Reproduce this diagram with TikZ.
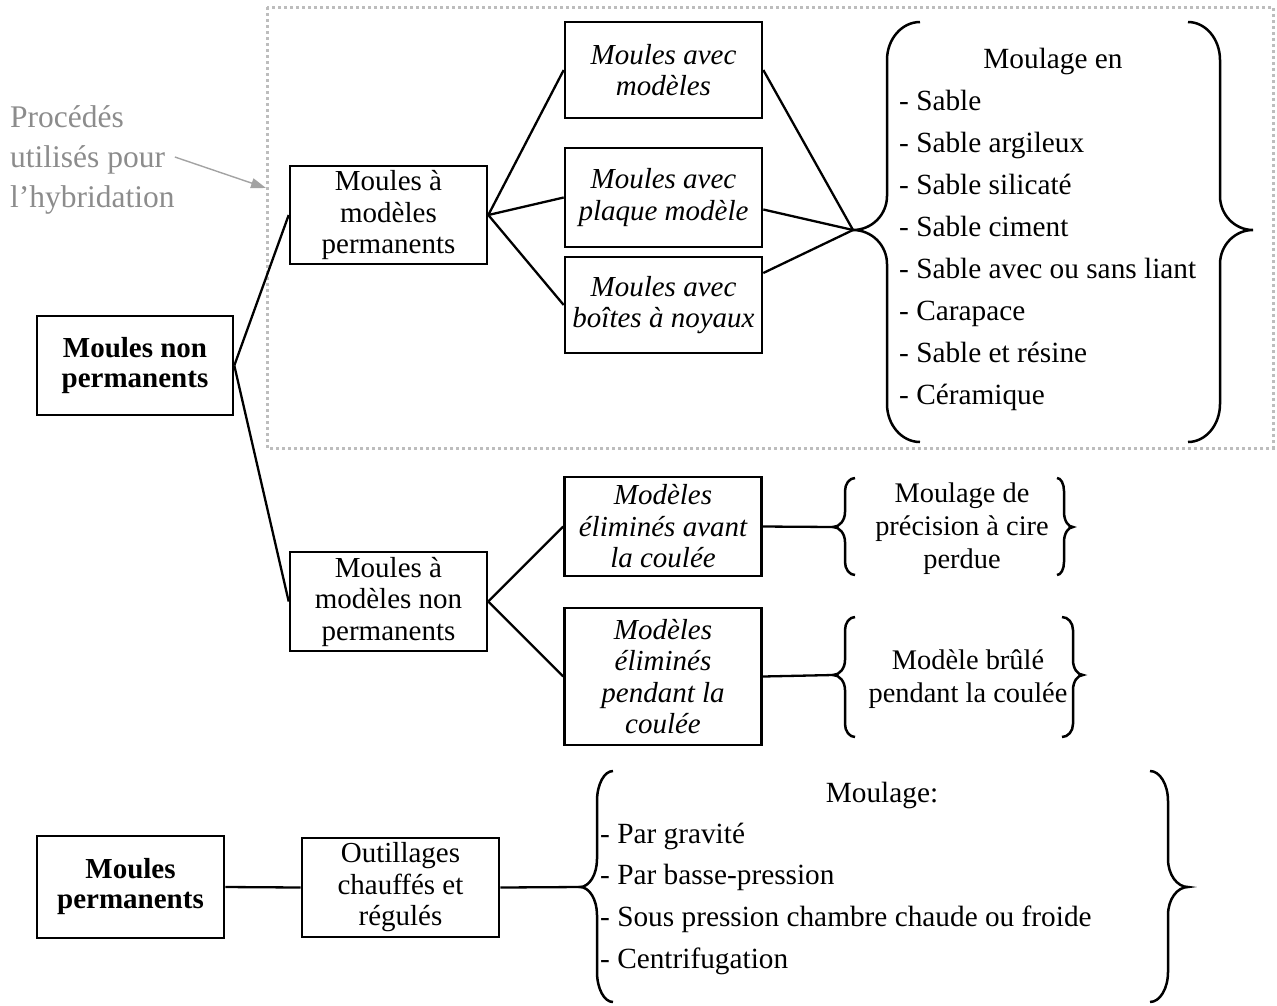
\documentclass[tikz,border=0pt]{standalone}
\usepackage{fontspec}
\setmainfont{Liberation Serif}
\usetikzlibrary{arrows.meta}

\definecolor{labelgray}{HTML}{8C8C8C}
\definecolor{framegray}{HTML}{BDBDBD}

% curly brace: #1 end x, #2 stem x, #3 tip x, #4 top y, #5 tip y, #6 bottom y,
% #7 curl of the ends, #8 curl at the tip
\newcommand\CurlyBrace[8]{%
  \draw[brace line] (#1,#4)
    .. controls ({#2+0.448*(#1-#2)},#4) and (#2,{#4+0.448*#7}) .. (#2,{#4+#7})
    -- (#2,{#5-#8})
    .. controls (#2,{#5-0.448*#8}) and ({#3+0.552*(#2-#3)},#5) .. (#3,#5)
    .. controls ({#3+0.552*(#2-#3)},#5) and (#2,{#5+0.448*#8}) .. (#2,{#5+#8})
    -- (#2,{#6-#7})
    .. controls (#2,{#6-0.448*#7}) and ({#2+0.448*(#1-#2)},#6) .. (#1,#6);}

\begin{document}
\begin{tikzpicture}[x=1pt,y=-1pt,
  box/.style={draw, line width=2.6pt, align=center, inner sep=2pt,
    minimum width=197pt, minimum height=99pt,
    font=\fontsize{29}{31.5}\selectfont},
  ibox/.style={box, font=\fontsize{29}{31.5}\selectfont\itshape},
  bbox/.style={box, font=\fontsize{29}{30}\selectfont\bfseries},
  link/.style={line width=2.3pt},
  brace line/.style={line width=2.5pt},
  listtext/.style={inner sep=0pt, font=\fontsize{29.3}{42}\selectfont},
  bracetext/.style={align=center, inner sep=0pt, font=\fontsize{28.4}{33}\selectfont},
  frame/.style={draw=framegray, line width=3pt, dash pattern=on 3pt off 3pt},
  note/.style={text=labelgray, align=left, inner sep=0pt, font=\fontsize{31.5}{40}\selectfont},
  note arrow/.style={draw=labelgray!80, line width=1.4pt, -{Triangle[length=15pt,width=10pt]}}
]
\useasboundingbox (0,0) rectangle (1277,1005);

% region of the processes used for hybridisation
\draw[frame] (267,7) rectangle (1273,448);
\node[note, anchor=west] (lbl) at (10,160) {Procédés\\utilisés pour\\l’hybridation};
\coordinate (lblend) at (266,188);
\draw[note arrow] ([yshift=3pt]lbl.east) -- (lblend);

% non-permanent moulds
\node[bbox, minimum width=196pt] (mnp) at (135,365.5) {Moules non\\permanents};
\node[box, minimum height=98pt] (mmp) at (388.5,215) {Moules à\\modèles\\permanents};
\node[ibox, minimum height=96pt] (mam) at (663.5,70) {Moules avec\\modèles};
\node[ibox] (mpm) at (663.5,197.5) {Moules avec\\plaque modèle};
\node[ibox, minimum height=96pt] (mbn) at (663.5,305) {Moules avec\\boîtes à noyaux};

\node[box] (mmnp) at (388.5,601.5) {Moules à\\modèles non\\permanents};
\node[ibox] (mea) at (663,526.5) {Modèles\\éliminés avant\\la coulée};
\node[ibox, minimum height=137pt] (mep) at (663,676.5) {Modèles\\éliminés\\pendant la\\coulée};

% permanent moulds
\node[bbox, minimum width=187pt, minimum height=102pt] (mp) at (130.5,887) {Moules\\permanents};
\node[box] (out) at (400.5,887.5) {Outillages\\chauffés et\\régulés};

% brace tips
\coordinate (tipA) at (853,230);
\coordinate (tipB) at (833,527);
\coordinate (tipC) at (833,675);
\coordinate (tipD) at (580,887);

% connectors
\draw[link] (mnp.east) -- (mmp.west);
\draw[link] (mnp.east) -- (mmnp.west);
\draw[link] (mmp.east) -- (mam.west);
\draw[link] (mmp.east) -- (mpm.west);
\draw[link] (mmp.east) -- (mbn.west);
\draw[link] (mam.east) -- (tipA);
\draw[link] ([yshift=-12pt]mpm.east) -- (tipA);
\draw[link] ([yshift=32pt]mbn.east) -- (tipA);
\draw[link] (mmnp.east) -- (mea.west);
\draw[link] (mmnp.east) -- (mep.west);
\draw[link] (mea.east) -- (tipB);
\draw[link] (mep.east) -- (tipC);
\draw[link] (mp.east) -- (out.west);
\draw[link] (out.east) -- (tipD);

% braces
\CurlyBrace{920}{887}{853}{22}{230}{442}{38}{34}
\CurlyBrace{1188}{1220}{1253}{22}{230}{442}{38}{34}
\CurlyBrace{855}{845}{833}{478}{527}{575}{13}{15}
\CurlyBrace{1057}{1064}{1073}{478}{527}{575}{13}{15}
\CurlyBrace{855}{845}{833}{617}{675}{737}{13}{15}
\CurlyBrace{1062}{1073}{1083}{617}{675}{737}{13}{15}
\CurlyBrace{613}{597}{580}{771}{887}{1002}{30}{28}
\CurlyBrace{1150}{1168}{1188}{771}{887}{1002}{30}{28}

% brace contents
\node[listtext, anchor=base] (hdA) at (1053,68) {Moulage en};
\foreach \t [count=\i] in {Sable, Sable argileux, Sable silicaté, Sable ciment,
    Sable avec ou sans liant, Carapace, Sable et résine, Céramique}
  \node[listtext, anchor=base west] (itA\i) at (899,{110+42*(\i-1)}) {- \t};

\node[bracetext] (txB) at (962,529) {Moulage de\\précision à cire\\perdue};
\node[bracetext] (txC) at (968,679) {Modèle brûlé\\pendant la coulée};

\node[listtext, anchor=base] (hdD) at (882,802) {Moulage:};
\foreach \t [count=\i] in {Par gravité, Par basse-pression,
    Sous pression chambre chaude ou froide, Centrifugation}
  \node[listtext, anchor=base west] (itD\i) at (600,{843+41.7*(\i-1)}) {- \t};
\end{tikzpicture}
\end{document}
